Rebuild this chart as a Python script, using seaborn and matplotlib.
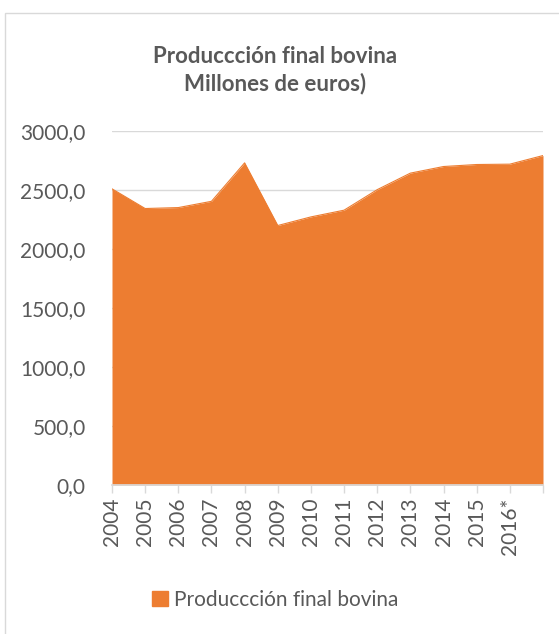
import seaborn as sns
import pandas as pd
import numpy as np
from matplotlib import pyplot as plt
from matplotlib.patches import Rectangle, Patch

# Datos
anios = ['2004', '2005', '2006', '2007', '2008', '2009', '2010',
         '2011', '2012', '2013', '2014', '2015', '2016*', '']
produccion = [2510, 2343, 2351, 2404, 2730, 2199, 2272,
              2329, 2503, 2643, 2699, 2716, 2719, 2792]
serie = 'Produccción final bovina'
titulo = 'Produccción final bovina\nMillones de euros)'

naranja = '#ED7D31'
gris_texto = '#595959'

df = pd.DataFrame({'pos': np.arange(len(anios)), 'valor': produccion})

sns.set_theme(style='white')
plt.rcParams['font.family'] = ['Lato', 'DejaVu Sans']

fig = plt.figure(figsize=(5.59, 6.34), dpi=100)
ax = fig.add_axes([112 / 559, 1 - 485 / 634, (543 - 112) / 559, (485 - 131) / 634])

sns.lineplot(data=df, x='pos', y='valor', ax=ax, color=naranja, linewidth=0.8)
ax.fill_between(df['pos'], df['valor'], color=naranja, linewidth=0, zorder=2)

ax.set_xlim(0, len(anios) - 1)
ax.set_ylim(0, 3000)
ax.set_yticks(np.arange(0, 3001, 500))
ax.set_yticklabels([f'{v:.1f}'.replace('.', ',') for v in np.arange(0, 3001, 500)],
                   fontsize=15, color=gris_texto)
ax.set_xticks(df['pos'])
ax.set_xticklabels(anios, rotation=90, fontsize=15, color=gris_texto, va='top')
ax.set_xlabel('')
ax.set_ylabel('')

ax.grid(axis='y', color='#d9d9d9', linewidth=1)
ax.set_axisbelow(True)
for lado in ['top', 'right', 'left']:
    ax.spines[lado].set_visible(False)
ax.spines['bottom'].set_color('#d9d9d9')
ax.spines['bottom'].set_zorder(3)
ax.tick_params(axis='x', bottom=True, length=6, width=1, color='#d9d9d9', pad=3)
ax.tick_params(axis='y', left=False, pad=13)

fig.text(275 / 559, 1 - 70 / 634, titulo,
         ha='center', va='center', fontsize=16, fontweight='bold',
         color=gris_texto, linespacing=1.35)

ax.legend(handles=[Patch(color=naranja, label=serie)], loc='center',
          bbox_to_anchor=(275 / 559, 1 - 600 / 634), bbox_transform=fig.transFigure,
          frameon=False, fontsize=15, handlelength=0.75, handleheight=0.75,
          handletextpad=0.3, labelcolor=gris_texto)

fig.patches.append(Rectangle((5 / 559, -0.01), 1.0, 1 - 13 / 634 + 0.01,
                             transform=fig.transFigure, fill=False,
                             edgecolor='#d9d9d9', linewidth=1))

fig.savefig('out.png', dpi=100)
